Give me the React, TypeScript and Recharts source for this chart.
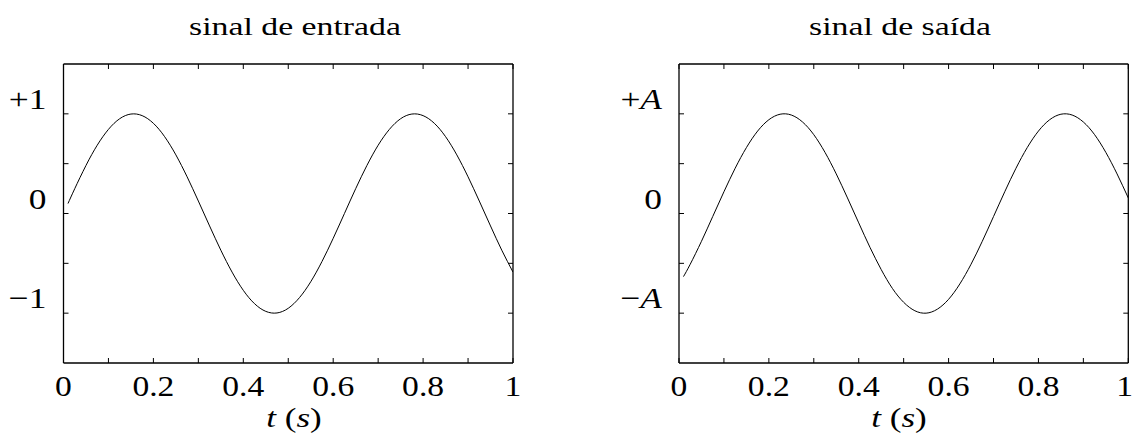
import { LineChart, Line, XAxis, YAxis } from 'recharts';

// time samples (s)
const T = [
  0.01, 0.025, 0.05, 0.075, 0.1, 0.125, 0.15, 0.175, 0.2, 0.225, 0.25,
  0.275, 0.3, 0.325, 0.35, 0.375, 0.4, 0.425, 0.45, 0.475, 0.5,
  0.525, 0.55, 0.575, 0.6, 0.625, 0.65, 0.675, 0.7, 0.725, 0.75,
  0.775, 0.8, 0.825, 0.85, 0.875, 0.9, 0.925, 0.95, 0.975, 1.0,
];

// sinal de entrada
const ENTRADA = [
  0.1, 0.249, 0.482, 0.685, 0.844, 0.951, 0.998, 0.982, 0.905, 0.771, 0.588,
  0.368, 0.125, -0.125, -0.368, -0.588, -0.771, -0.905, -0.982, -0.998, -0.951,
  -0.844, -0.685, -0.482, -0.249, 0.0, 0.249, 0.482, 0.685, 0.844, 0.951,
  0.998, 0.982, 0.905, 0.771, 0.588, 0.368, 0.125, -0.125, -0.368, -0.588,
];

// sinal de saída
const SAIDA = [
  -0.633, -0.509, -0.279, -0.031, 0.218, 0.454, 0.661, 0.827, 0.941, 0.996, 0.988,
  0.918, 0.791, 0.613, 0.397, 0.156, -0.094, -0.339, -0.562, -0.752, -0.891,
  -0.976, -1.0, -0.96, -0.861, -0.707, -0.509, -0.279, -0.031, 0.218, 0.454,
  0.661, 0.827, 0.941, 0.996, 0.988, 0.918, 0.791, 0.613, 0.397, 0.156,
];

const X_TICKS = [0, 0.1, 0.2, 0.3, 0.4, 0.5, 0.6, 0.7, 0.8, 0.9, 1];
const X_LABELS = ['0', '', '0.2', '', '0.4', '', '0.6', '', '0.8', '', '1'];

const Y_TICKS = [-1, -0.5, 0, 0.5, 1];
const Y_LABELS_ENTRADA = ['−1', '', '0', '', '+1'];
const Y_LABELS_SAIDA = ['−A', '', '0', '', '+A'];

const FONT = '"Liberation Serif", "Times New Roman", serif';
const W = 567;
const H = 436;

const idx = (arr: number[], v: number) => arr.findIndex((a) => Math.abs(a - v) < 1e-9);

const BottomTick = (props: any) => {
  const { x, y, payload } = props;
  const lab = X_LABELS[idx(X_TICKS, payload.value)];
  // keep the last label inside the page when the axis ends at the edge
  const atEdge = x > W - 12;
  return (
    <g>
      <line x1={x} y1={y} x2={x} y2={y - 5} stroke="#000" strokeWidth={1} />
      {lab ? (
        <text
          transform={`translate(${atEdge ? W - 1 : x},${y + 33}) scale(1.12,1)`}
          textAnchor={atEdge ? 'end' : 'middle'}
          fontFamily={FONT}
          fontSize={30}
          fill="#000"
        >
          {lab}
        </text>
      ) : null}
    </g>
  );
};

const TopTick = (props: any) => {
  const { x, y } = props;
  return <line x1={x} y1={y} x2={x} y2={y + 5} stroke="#000" strokeWidth={1} />;
};

const RightTick = (props: any) => {
  const { x, y } = props;
  return <line x1={x} y1={y} x2={x - 5} y2={y} stroke="#000" strokeWidth={1} />;
};

const makeLeftTick = (labels: string[]) => (props: any) => {
  const { x, y, payload } = props;
  const lab = labels[idx(Y_TICKS, payload.value)];
  let content: any = lab;
  if (lab && lab.endsWith('A')) {
    content = [
      <tspan key="s">{lab.slice(0, 1)}</tspan>,
      <tspan key="a" fontStyle="italic">A</tspan>,
    ];
  }
  return (
    <g>
      <line x1={x} y1={y} x2={x + 5} y2={y} stroke="#000" strokeWidth={1} />
      {lab ? (
        <text
          transform={`translate(${x - 17},${y - 5}) scale(1.18,1)`}
          textAnchor="end"
          fontFamily={FONT}
          fontSize={30}
          fill="#000"
        >
          {content}
        </text>
      ) : null}
    </g>
  );
};

function Panel({ values, yLabels, marginLeft, marginRight, offset }: any) {
  const data = T.map((t, i) => ({ t, v: values[i] }));
  const axisLine = { stroke: '#000', strokeWidth: 1.3 };
  return (
    <div style={{ position: 'absolute', left: offset, top: 0 }}>
      <LineChart
        width={W}
        height={H}
        data={data}
        margin={{ top: 63, right: marginRight - 1, bottom: 72, left: marginLeft - 1 }}
      >
        <XAxis
          dataKey="t"
          type="number"
          domain={[0, 1]}
          ticks={X_TICKS}
          allowDataOverflow
          height={1}
          tickSize={0}
          tickMargin={0}
          tick={BottomTick}
          axisLine={axisLine}
          interval={0}
        />
        <XAxis
          xAxisId="top"
          orientation="top"
          dataKey="t"
          type="number"
          domain={[0, 1]}
          ticks={X_TICKS}
          allowDataOverflow
          height={1}
          tickSize={0}
          tickMargin={0}
          tick={TopTick}
          axisLine={axisLine}
          interval={0}
        />
        <YAxis
          type="number"
          domain={[-1.5, 1.5]}
          ticks={Y_TICKS}
          allowDataOverflow
          width={1}
          tickSize={0}
          tickMargin={0}
          tick={makeLeftTick(yLabels)}
          axisLine={axisLine}
          interval={0}
        />
        <YAxis
          yAxisId="right"
          orientation="right"
          type="number"
          domain={[-1.5, 1.5]}
          ticks={Y_TICKS}
          allowDataOverflow
          width={1}
          tickSize={0}
          tickMargin={0}
          tick={RightTick}
          axisLine={axisLine}
          interval={0}
        />
        <Line
          dataKey="v"
          type="natural"
          stroke="#000"
          strokeWidth={1}
          dot={false}
          isAnimationActive={false}
        />
      </LineChart>
    </div>
  );
}

const TimeLabel = ({ x }: { x: number }) => (
  <text
    transform={`translate(${x},427) scale(1.3,1)`}
    textAnchor="middle"
    fontFamily={FONT}
    fontSize={27}
    fill="#000"
  >
    <tspan fontStyle="italic">t</tspan>
    <tspan> (</tspan>
    <tspan fontStyle="italic">s</tspan>
    <tspan>)</tspan>
  </text>
);

const Title = ({ x, text }: { x: number; text: string }) => (
  <text
    transform={`translate(${x},35) scale(1.3,1)`}
    textAnchor="middle"
    fontFamily={FONT}
    fontSize={26}
    fill="#000"
  >
    {text}
  </text>
);

export default function App() {
  return (
    <div style={{ position: 'absolute', left: 0, top: 0, width: 1134, height: 436, background: '#fff' }}>
      <Panel values={ENTRADA} yLabels={Y_LABELS_ENTRADA} marginLeft={63.5} marginRight={54} offset={0} />
      <Panel values={SAIDA} yLabels={Y_LABELS_SAIDA} marginLeft={112} marginRight={5.7} offset={567} />
      <svg
        width={1134}
        height={436}
        style={{ position: 'absolute', left: 0, top: 0, pointerEvents: 'none' }}
      >
        <Title x={295} text="sinal de entrada" />
        <Title x={900} text="sinal de saída" />
        <TimeLabel x={294} />
        <TimeLabel x={899} />
      </svg>
    </div>
  );
}
